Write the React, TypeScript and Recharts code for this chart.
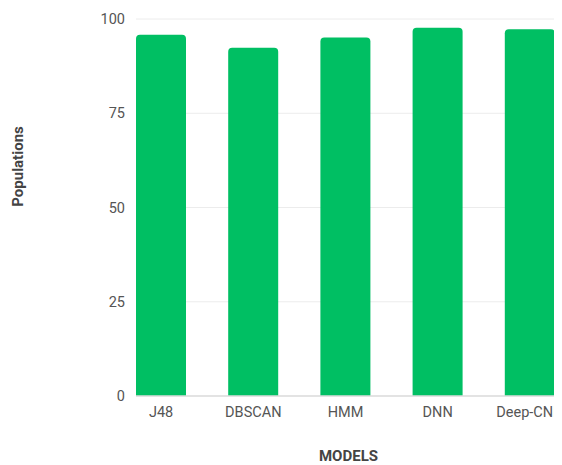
import React from 'react';
import { BarChart, Bar, XAxis, YAxis, CartesianGrid, Label } from 'recharts';

const categories = ['J48', 'DBSCAN', 'HMM', 'DNN', 'Deep-CNN'];
const values = [95.8, 92.4, 95.1, 97.7, 97.3];
const yTicks = [0, 25, 50, 75, 100];

const data = categories.map((name, i) => ({ name, value: values[i] }));

const FONT = 'Roboto, "Noto Sans", sans-serif';

const YLabel = (props: any) => {
  const vb = props.viewBox || {};
  const x = vb.x + 10;
  const y = vb.y + vb.height / 2 - 41;
  return (
    <text
      x={x}
      y={y}
      transform={`rotate(-90, ${x}, ${y})`}
      textAnchor="middle"
      dominantBaseline="central"
      fontFamily={FONT}
      fontSize={15}
      fontWeight={700}
      fill="#444"
    >
      Populations
    </text>
  );
};

const XLabel = (props: any) => {
  const vb = props.viewBox || {};
  const x = vb.x + vb.width / 2 + 3;
  const y = vb.y + 60;
  return (
    <text
      x={x}
      y={y}
      textAnchor="middle"
      dominantBaseline="central"
      fontFamily={FONT}
      fontSize={15}
      fontWeight={700}
      fill="#444"
    >
      MODELS
    </text>
  );
};

export default function App() {
  return (
    <div style={{ width: 554, height: 457, fontFamily: FONT }}>
      <BarChart
        width={554}
        height={457}
        data={data}
        margin={{ top: 11, right: 7, left: 0, bottom: 0 }}
        style={{ overflow: 'visible' }}
      >
        <CartesianGrid vertical={false} stroke="#ececec" />
        <XAxis
          dataKey="name"
          height={69}
          interval={0}
          padding={{ left: -21, right: -21 }}
          tickLine={false}
          tickSize={6}
          tickMargin={5}
          axisLine={{ stroke: '#dcdcdc', strokeWidth: 1.5 }}
          tick={{ fill: '#555', fontSize: 14.5, fontFamily: FONT }}
        >
          <Label content={XLabel} />
        </XAxis>
        <YAxis
          width={128}
          domain={[0, 100]}
          ticks={yTicks}
          axisLine={false}
          tickLine={false}
          tickSize={6}
          tickMargin={5}
          tick={{ fill: '#555', fontSize: 14.5, fontFamily: FONT }}
        >
          <Label content={YLabel} />
        </YAxis>
        <Bar
          dataKey="value"
          fill="#00bf63"
          barSize={50}
          radius={[4, 4, 0, 0]}
          isAnimationActive={false}
        />
      </BarChart>
    </div>
  );
}
